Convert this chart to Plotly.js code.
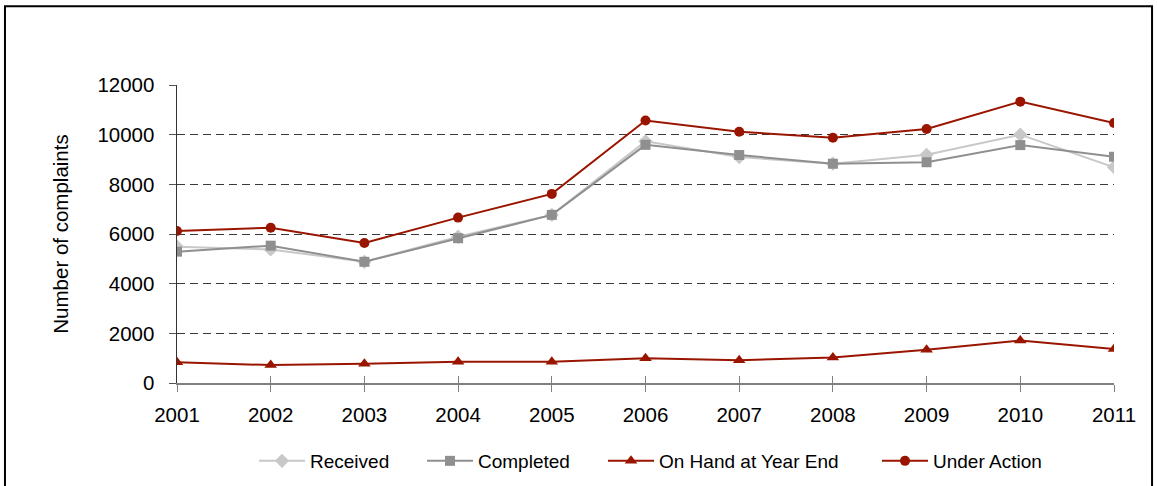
<!DOCTYPE html>
<html>
<head>
<meta charset="utf-8">
<script src="https://cdn.plot.ly/plotly-3.0.1.min.js"></script>
<style>html,body{margin:0;padding:0;background:#fff;}#chart{width:1157px;height:486px;}</style>
</head>
<body>
<div id="chart"></div>
<script>
const years = [2001, 2002, 2003, 2004, 2005, 2006, 2007, 2008, 2009, 2010, 2011];
const received = [5490, 5380, 4880, 5890, 6770, 9730, 9100, 8830, 9190, 10000, 8690];
const completed = [5290, 5530, 4880, 5830, 6770, 9590, 9180, 8830, 8890, 9580, 9110];
const onHand = [840, 720, 775, 855, 855, 1000, 920, 1030, 1340, 1715, 1365];
const underAction = [6120, 6250, 5640, 6660, 7615, 10570, 10120, 9875, 10225, 11330, 10470];
const yTicks = [0, 2000, 4000, 6000, 8000, 10000, 12000];

const font = "'Liberation Sans', Arial, sans-serif";
const traces = [
  {x: years, y: received, name: 'Received', mode: 'lines+markers', legend: 'legend',
   line: {color: '#c8c8c8', width: 2}, marker: {symbol: 'diamond', size: 11, color: '#c8c8c8'}},
  {x: years, y: completed, name: 'Completed', mode: 'lines+markers', legend: 'legend2',
   line: {color: '#8f8f8f', width: 2}, marker: {symbol: 'square', size: 10, color: '#8f8f8f'}},
  {x: years, y: onHand, name: 'On Hand at Year End', mode: 'lines+markers', legend: 'legend3',
   line: {color: '#9a1500', width: 2}, marker: {symbol: 'triangle-up', size: 11, color: '#9a1500'}},
  {x: years, y: underAction, name: 'Under Action', mode: 'lines+markers', legend: 'legend4',
   line: {color: '#9a1500', width: 2}, marker: {symbol: 'circle', size: 10, color: '#9a1500'}}
];

function leg(px) {
  return {orientation: 'h', xref: 'container', yref: 'container', x: px / 1157, xanchor: 'left',
          y: 25 / 486, yanchor: 'middle', bgcolor: 'rgba(0,0,0,0)', borderwidth: 0,
          font: {family: font, size: 19, color: '#000'}, itemwidth: 46};
}

const layout = {
  width: 1157, height: 486,
  margin: {l: 177, r: 43, t: 85, b: 103, pad: 0, autoexpand: false},
  paper_bgcolor: '#fff', plot_bgcolor: '#fff',
  font: {family: font, color: '#000', size: 20},
  showlegend: true,
  legend: leg(254),
  legend2: leg(422),
  legend3: leg(603),
  legend4: leg(877),
  xaxis: {range: [2001, 2011], tickvals: years, ticktext: years.map(String),
          showgrid: false, zeroline: false, showline: true, linecolor: '#808080', linewidth: 1.5,
          ticks: 'outside', ticklen: 7, tickcolor: '#808080', tickwidth: 1,
          ticklabelstandoff: 6, tickfont: {family: font, size: 20.5, color: '#000'}},
  xaxis2: {range: [2001, 2011], tickvals: years, overlaying: 'x', anchor: 'y', side: 'bottom',
           showgrid: false, zeroline: false, showline: false, showticklabels: false,
           ticks: 'inside', ticklen: 7, tickcolor: '#808080', tickwidth: 1},
  yaxis: {range: [0, 12000], tickvals: yTicks, ticktext: yTicks.map(String),
          showgrid: true, gridcolor: '#3a3a3a', gridwidth: 1, griddash: '8px,5px',
          zeroline: false, showline: true, linecolor: '#333', linewidth: 1.5,
          ticks: 'outside', ticklen: 7, tickcolor: '#555', tickwidth: 1,
          ticklabelstandoff: 10, tickfont: {family: font, size: 20.5, color: '#000'},
          title: {text: 'Number of complaints', font: {family: font, size: 20.5, color: '#000'}, standoff: 23}},
  shapes: [
    {type: 'rect', xref: 'paper', yref: 'paper', x0: -0.1836, x1: 1.0406, y0: -0.5, y1: 1.2645,
     line: {color: '#000', width: 2}, fillcolor: 'rgba(0,0,0,0)', layer: 'above'}
  ]
};

const extra = {x: [2001], y: [null], xaxis: 'x2', yaxis: 'y', showlegend: false, hoverinfo: 'skip', mode: 'markers'};

Plotly.newPlot('chart', traces.concat([extra]), layout, {displayModeBar: false, staticPlot: true});
</script>
</body>
</html>
